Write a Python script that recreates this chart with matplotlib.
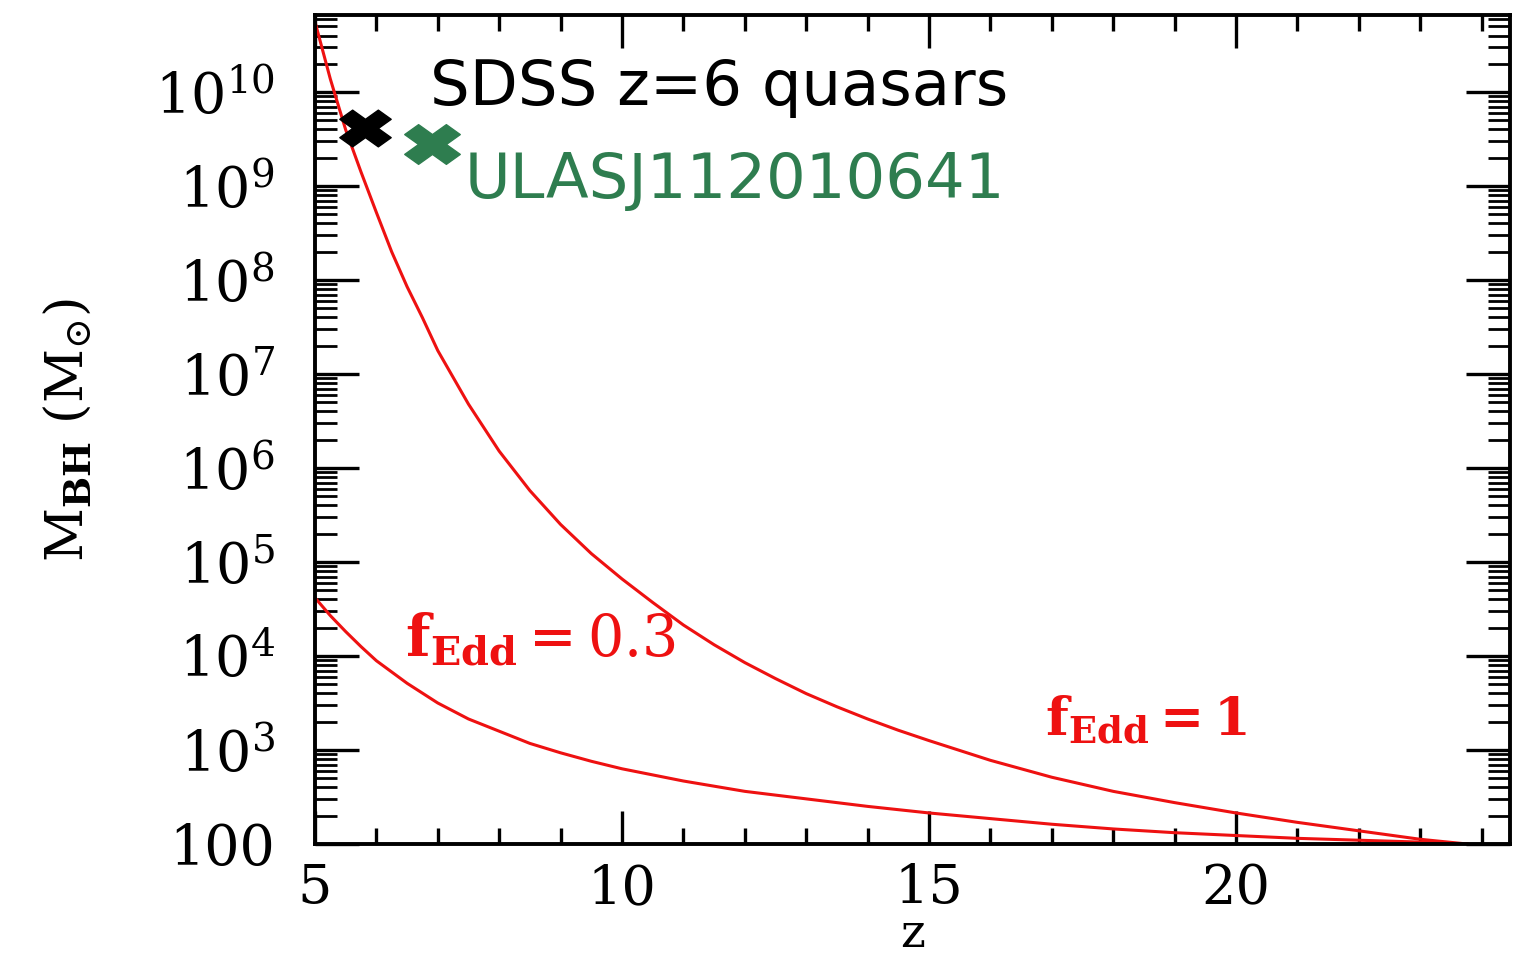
import numpy as np
import matplotlib
matplotlib.use('agg')
import matplotlib.pyplot as plt
from matplotlib.ticker import FixedLocator, MultipleLocator, LogLocator, NullFormatter
from matplotlib.markers import MarkerStyle
from matplotlib.path import Path

# growth tracks: redshift and log10(M_BH / Msun)
z_edd1 = [5.0, 5.25, 5.5, 5.75, 6.0, 6.25, 6.5, 6.75, 7.0, 7.5, 8.0, 8.5, 9.0,
          9.5, 10.0, 10.5, 11.0, 11.5, 12.0, 12.5, 13.0, 13.5, 14.0, 14.5, 15.0,
          16.0, 17.0, 18.0, 19.0, 20.0, 21.0, 22.0, 23.0, 23.76]
logm_edd1 = [10.75, 10.14, 9.6, 9.15, 8.72, 8.3, 7.93, 7.6, 7.25, 6.68, 6.18,
             5.76, 5.4, 5.09, 4.82, 4.57, 4.33, 4.12, 3.93, 3.76, 3.6, 3.46,
             3.33, 3.21, 3.1, 2.89, 2.71, 2.56, 2.44, 2.33, 2.23, 2.14, 2.05, 2.0]

z_edd03 = [5.0, 5.25, 5.5, 5.75, 6.0, 6.5, 7.0, 7.5, 8.0, 8.5, 9.0, 9.5, 10.0,
           11.0, 12.0, 13.0, 14.0, 15.0, 16.0, 17.0, 18.0, 19.0, 20.0, 21.0,
           22.0, 23.0, 23.76]
logm_edd03 = [4.62, 4.43, 4.26, 4.1, 3.95, 3.71, 3.5, 3.33, 3.2, 3.07, 2.97,
              2.88, 2.8, 2.67, 2.56, 2.48, 2.4, 2.33, 2.27, 2.21, 2.16, 2.12,
              2.09, 2.06, 2.04, 2.02, 2.0]

# observed quasars
sdss_z = [5.81]
sdss_mass = [4.2e9]
ulas_z = [6.91]
ulas_mass = [2.8e9]

xtick_vals = [5, 10, 15, 20]
ytick_vals = [1e2, 1e3, 1e4, 1e5, 1e6, 1e7, 1e8, 1e9, 1e10]
ytick_labels = ['100', '$10^{3}$', '$10^{4}$', '$10^{5}$', '$10^{6}$',
                '$10^{7}$', '$10^{8}$', '$10^{9}$', '$10^{10}$']

RED = '#ee1111'
GREEN = '#2e7d4f'

plt.rcParams['font.family'] = 'DejaVu Serif'
plt.rcParams['mathtext.fontset'] = 'dejavuserif'

fig = plt.figure(figsize=(15.23, 9.57), dpi=100)
ax = fig.add_axes([0.2068, 0.1181, 0.7846, 0.8662])

ax.plot(z_edd1, 10 ** np.array(logm_edd1), color=RED, lw=2.2)
ax.plot(z_edd03, 10 ** np.array(logm_edd03), color=RED, lw=2.2)

# wide filled cross like the original
xp = MarkerStyle('X').get_path()
wide_x = Path(xp.vertices * [1.4, 1.0], xp.codes)
ax.plot(sdss_z, sdss_mass, marker=wide_x, ms=37, color='black', ls='none', clip_on=False)
ax.plot(ulas_z, ulas_mass, marker=wide_x, ms=40, color=GREEN, ls='none', clip_on=False)

ax.set_yscale('log')
ax.set_xlim(5, 24.46)
ax.set_ylim(1e2, 10 ** 10.82)

ax.xaxis.set_major_locator(FixedLocator(xtick_vals))
ax.xaxis.set_minor_locator(MultipleLocator(1))
ax.yaxis.set_major_locator(FixedLocator(ytick_vals))
ax.set_yticklabels(ytick_labels)
ax.yaxis.set_minor_locator(LogLocator(base=10, subs=np.arange(2, 10), numticks=100))
ax.yaxis.set_minor_formatter(NullFormatter())

ax.tick_params(which='both', direction='in', top=True, right=True, color='black')
ax.tick_params(axis='x', which='major', length=24, width=2.4, pad=14, labelsize=39)
ax.tick_params(axis='x', which='minor', length=11.5, width=2.4)
ax.tick_params(axis='y', which='major', length=32, width=2.4, pad=29, labelsize=40)
ax.tick_params(axis='y', which='minor', length=16, width=2.0)
for sp in ax.spines.values():
    sp.set_linewidth(2.8)

ax.set_xlabel('z', fontsize=34)
ax.xaxis.set_label_coords(0.5, -0.082)
ax.set_ylabel(r'$\mathrm{M}_{\mathbf{BH}}\ (\mathrm{M}_{\odot})$', fontsize=38)
ax.yaxis.set_label_coords(-0.185, 0.5)

ax.text(6.87, 10 ** 9.86, 'SDSS z=6 quasars', family='DejaVu Sans', fontsize=45,
        color='black', va='baseline', ha='left')
ax.text(7.44, 10 ** 8.87, 'ULASJ112010641', family='DejaVu Sans', fontsize=45,
        color=GREEN, va='baseline', ha='left')
ax.text(6.47, 10 ** 3.99, r'$\mathbf{f_{Edd}}=0.3$', fontsize=41,
        color=RED, va='baseline', ha='left')
ax.text(16.89, 10 ** 3.16, r'$\mathbf{f_{Edd}=1}$', fontsize=38,
        color=RED, va='baseline', ha='left')

fig.savefig('out.png', dpi=100)
